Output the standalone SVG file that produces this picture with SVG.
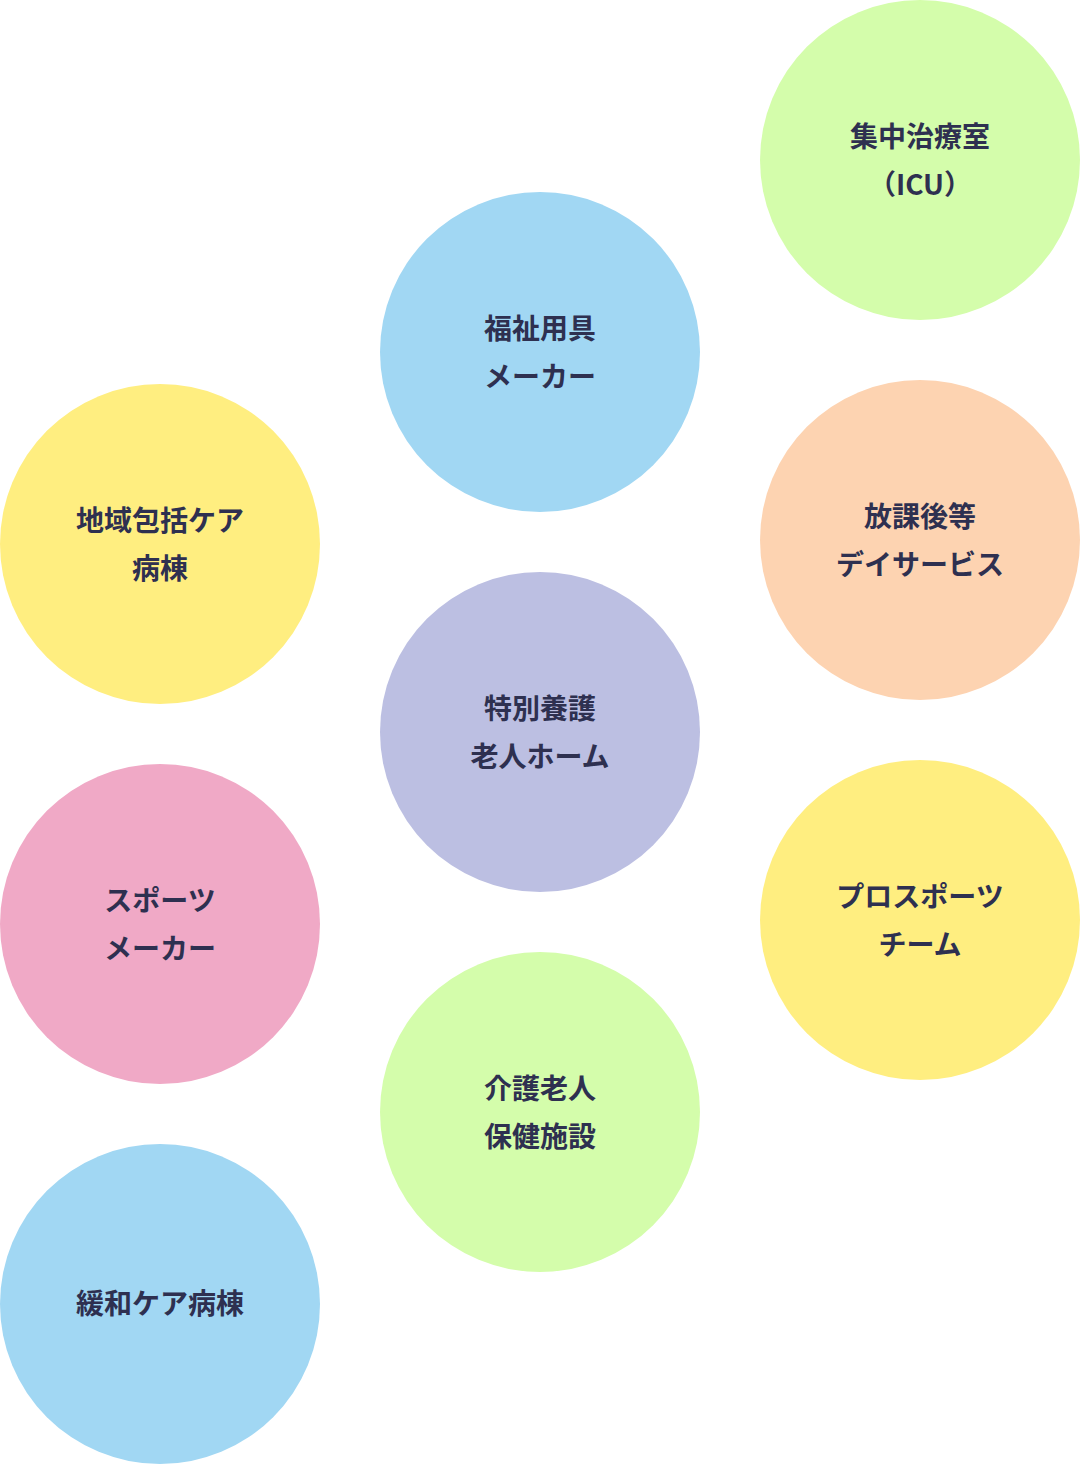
<svg xmlns="http://www.w3.org/2000/svg" width="1080" height="1464" viewBox="0 0 1080 1464">
<style>
text{font-family:"Noto Sans CJK JP","Noto Sans",sans-serif;font-weight:bold;font-size:28px;fill:#2e3050;text-anchor:middle}
.g{fill:#d4fdab}.b{fill:#a1d7f3}.y{fill:#ffee80}.p{fill:#fdd3b1}.l{fill:#bcbfe2}.k{fill:#f0a9c6}
</style>
<rect width="1080" height="1464" fill="#fff"/>
<g id="connectors"/>
<g id="icu"><circle class="g" cx="920" cy="160" r="160"/><text x="920" y="147">集中治療室</text><text x="920" y="195">（ICU）</text></g>
<g id="fukushi"><circle class="b" cx="540" cy="352" r="160"/><text x="540" y="339">福祉用具</text><text x="540" y="387">メーカー</text></g>
<g id="chiiki"><circle class="y" cx="160" cy="544" r="160"/><text x="160" y="531">地域包括ケア</text><text x="160" y="579">病棟</text></g>
<g id="houkago"><circle class="p" cx="920" cy="540" r="160"/><text x="920" y="527">放課後等</text><text x="920" y="575">デイサービス</text></g>
<g id="tokuyou"><circle class="l" cx="540" cy="732" r="160"/><text x="540" y="719">特別養護</text><text x="540" y="767">老人ホーム</text></g>
<g id="sports"><circle class="k" cx="160" cy="924" r="160"/><text x="160" y="911">スポーツ</text><text x="160" y="959">メーカー</text></g>
<g id="pro"><circle class="y" cx="920" cy="920" r="160"/><text x="920" y="907">プロスポーツ</text><text x="920" y="955">チーム</text></g>
<g id="kaigo"><circle class="g" cx="540" cy="1112" r="160"/><text x="540" y="1099">介護老人</text><text x="540" y="1147">保健施設</text></g>
<g id="kanwa"><circle class="b" cx="160" cy="1304" r="160"/><text x="160" y="1314">緩和ケア病棟</text></g>
</svg>
